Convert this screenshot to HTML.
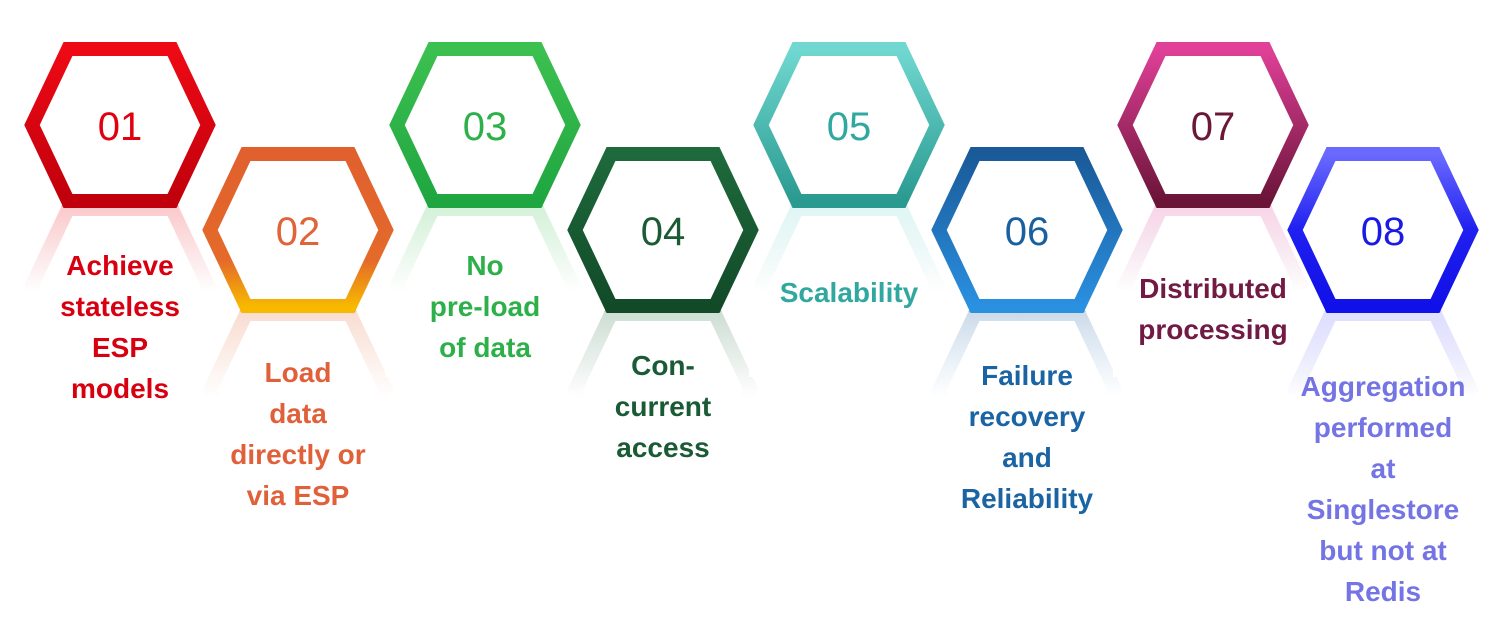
<!DOCTYPE html>
<html><head><meta charset="utf-8"><style>
body{margin:0;width:1504px;height:632px;background:#fff;overflow:hidden;position:relative;font-family:"Liberation Sans",sans-serif}
svg{position:absolute;left:0;top:0}
.t{position:absolute;text-align:center;font-weight:bold;font-size:28px;line-height:41px;width:240px;margin-left:-10px}
</style></head><body>
<svg width="1504" height="632" viewBox="0 0 1504 632">
<defs>
<linearGradient id="g1" x1="0" y1="0" x2="0" y2="1"><stop offset="0" stop-color="#ee0a14"/><stop offset="1" stop-color="#c0000c"/></linearGradient>
<linearGradient id="g2" x1="0" y1="0" x2="0" y2="1"><stop offset="0" stop-color="#e0602e"/><stop offset=".7" stop-color="#e46a2a"/><stop offset="1" stop-color="#f7b800"/></linearGradient>
<linearGradient id="g3" x1="0" y1="0" x2="0" y2="1"><stop offset="0" stop-color="#3cc050"/><stop offset="1" stop-color="#1fa640"/></linearGradient>
<linearGradient id="g4" x1="0" y1="0" x2="0" y2="1"><stop offset="0" stop-color="#1e6a3c"/><stop offset="1" stop-color="#124a28"/></linearGradient>
<linearGradient id="g5" x1="0" y1="0" x2="0" y2="1"><stop offset="0" stop-color="#70d8d0"/><stop offset="1" stop-color="#2a9a90"/></linearGradient>
<linearGradient id="g6" x1="0" y1="0" x2="0" y2="1"><stop offset="0" stop-color="#1a5a98"/><stop offset="1" stop-color="#2a90e0"/></linearGradient>
<linearGradient id="g7" x1="0" y1="0" x2="0" y2="1"><stop offset="0" stop-color="#e04098"/><stop offset="1" stop-color="#6a1438"/></linearGradient>
<linearGradient id="g8" x1="0" y1="0" x2="0" y2="1"><stop offset="0" stop-color="#6a6aff"/><stop offset=".5" stop-color="#2020f0"/><stop offset="1" stop-color="#1010e8"/></linearGradient>
<linearGradient id="fade" x1="0" y1="0" x2="0" y2="1"><stop offset="0" stop-color="#fff" stop-opacity=".45"/><stop offset=".5" stop-color="#fff" stop-opacity="1"/><stop offset="1" stop-color="#fff" stop-opacity="1"/></linearGradient>
</defs>
<g id="refl"></g>
<g id="hexes"></g>
</svg>
<script>
var d=[[120,125,'01','#e00010'],[298,230,'02','#e06438'],[485,125,'03','#2db04a'],[663,230,'04','#1a5a34'],[849,125,'05','#30a8a0'],[1027,230,'06','#1a60a0'],[1213,125,'07','#6a1838'],[1383,230,'08','#1a1ae8']];
var r='',s='';
d.forEach(function(e,i){var cx=e[0],cy=e[1],g='url(#g'+(i+1)+')';
function pts(y0){var a=[[-88,0],[-52,-76],[52,-76],[88,0],[52,76],[-52,76]];return a.map(function(p){return (cx+p[0])+','+(y0+p[1])}).join(' ')}
r+='<g><polygon points="'+pts(cy+160)+'" fill="none" stroke="'+g+'" stroke-width="14" opacity=".4"/>';
r+='<rect x="'+(cx-100)+'" y="'+(cy+82)+'" width="200" height="170" fill="url(#fade)"/></g>';
s+='<polygon points="'+pts(cy)+'" fill="#fff" stroke="'+g+'" stroke-width="14"/>';
s+='<text x="'+cx+'" y="'+(cy+15)+'" text-anchor="middle" font-family="Liberation Sans, sans-serif" font-size="40" fill="'+e[3]+'">'+e[2]+'</text>';
});
document.getElementById('refl').innerHTML=r;
document.getElementById('hexes').innerHTML=s;
</script>
<div class="t" style="left:10px;top:245px;color:#d80010">Achieve<br>stateless<br>ESP<br>models</div>
<div class="t" style="left:188px;top:352px;color:#e0603a">Load<br>data<br>directly or<br>via ESP</div>
<div class="t" style="left:375px;top:245px;color:#2db04a">No<br>pre-load<br>of data</div>
<div class="t" style="left:553px;top:345px;color:#1a5a34">Con-<br>current<br>access</div>
<div class="t" style="left:739px;top:272px;color:#30a8a0">Scalability</div>
<div class="t" style="left:917px;top:355px;color:#1a64a4">Failure<br>recovery<br>and<br>Reliability</div>
<div class="t" style="left:1103px;top:268px;color:#701a44">Distributed<br>processing</div>
<div class="t" style="left:1273px;top:366px;color:#7474e4">Aggregation<br>performed<br>at<br>Singlestore<br>but not at<br>Redis</div>
</body></html>
